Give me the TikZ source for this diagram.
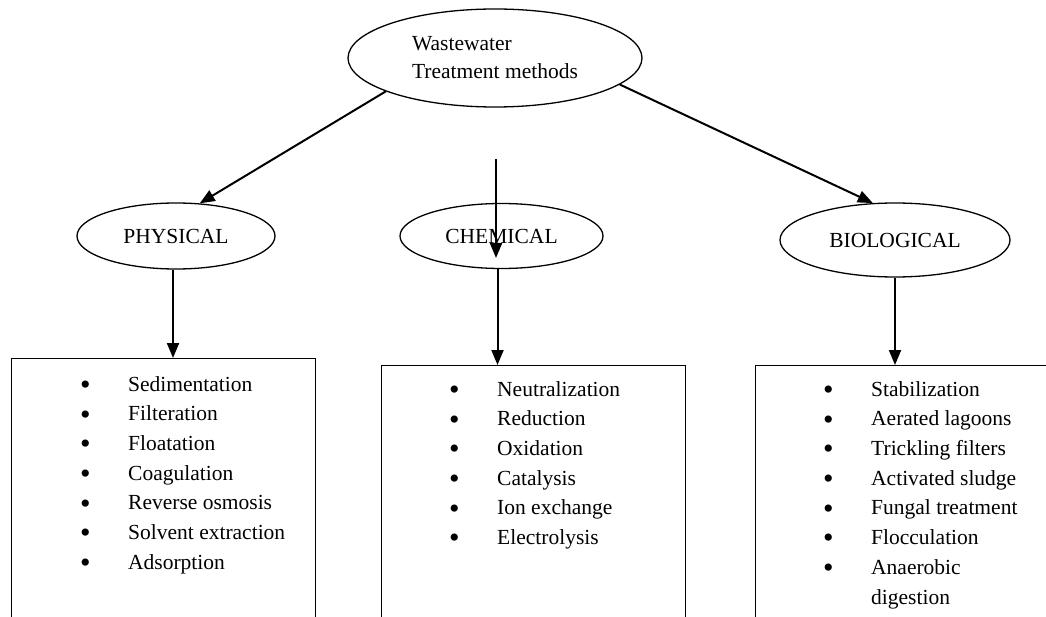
\documentclass[tikz,border=0pt]{standalone}
\usepackage{fontspec}
\setmainfont{Liberation Serif}
\usetikzlibrary{shapes.geometric,arrows.meta}
\tikzset{
  oval/.style={draw, ellipse, line width=1.3pt, inner sep=0pt, font=\fontsize{21.5}{28}\selectfont},
  listbox/.style={draw, line width=1.4pt, anchor=north west, inner sep=0pt},
  conn/.style={line width=2pt, -{Triangle[length=15pt,width=12pt]}},
  items/.style={anchor=north west, inner sep=0pt, align=left, font=\fontsize{21.5}{29.7}\selectfont}
}
\newcommand{\bigdot}{\raisebox{-3.3pt}{\fontsize{30}{30}\selectfont\textbullet}}
\newcommand{\bitem}[1]{\makebox[48pt][l]{\bigdot}#1}
\begin{document}
\begin{tikzpicture}[x=1pt,y=-1pt]
\clip (0,0) rectangle (1046,617);
\useasboundingbox (0,0) rectangle (1046,617);
\fill[white] (0,0) rectangle (1046,617);

% top ellipse
\node[oval, minimum width=294pt, minimum height=98pt, align=left] (top) at (495,58)
  {Wastewater\\Treatment methods};

% category ellipses
\node[oval, minimum width=198pt, minimum height=66pt] (phys) at (176,236) {PHYSICAL};
\node[oval, minimum width=203pt, minimum height=65pt] (chem) at (501.5,236) {CHEMICAL};
\node[oval, minimum width=230pt, minimum height=74pt] (bio) at (895,240) {BIOLOGICAL};

% boxes
\node[listbox, minimum width=304pt, minimum height=300pt] (physbox) at (11,358) {};
\node[listbox, minimum width=304pt, minimum height=300pt] (chembox) at (381,365) {};
\node[listbox, minimum width=330pt, minimum height=300pt] (biobox) at (755,365) {};

% lists
\node[items] (physlist) at (80,376) {%
\bitem{Sedimentation}\\
\bitem{Filteration}\\
\bitem{Floatation}\\
\bitem{Coagulation}\\
\bitem{Reverse osmosis}\\
\bitem{Solvent extraction}\\
\bitem{Adsorption}};

\node[items] (chemlist) at (449,381) {%
\bitem{Neutralization}\\
\bitem{Reduction}\\
\bitem{Oxidation}\\
\bitem{Catalysis}\\
\bitem{Ion exchange}\\
\bitem{Electrolysis}};

\node[items] (biolist) at (823,381) {%
\bitem{Stabilization}\\
\bitem{Aerated lagoons}\\
\bitem{Trickling filters}\\
\bitem{Activated sludge}\\
\bitem{Fungal treatment}\\
\bitem{Flocculation}\\
\bitem{Anaerobic}\\
\makebox[48pt][l]{}digestion};

% connectors
\draw[conn] (top.197) -- (phys.54);
\draw[conn] (top.348) -- (bio.121);
\coordinate (cs) at (496,159);
\coordinate (ce) at (496,258);
\draw[conn] (cs) -- (ce);
\draw[conn] ([xshift=-3pt]phys.south) -- ([xshift=-3pt]phys.south |- physbox.north);
\draw[conn] ([xshift=-4pt]chem.south) -- ([xshift=-4pt]chem.south |- chembox.north);
\draw[conn] (bio.south) -- (bio.south |- biobox.north);
\end{tikzpicture}
\end{document}
